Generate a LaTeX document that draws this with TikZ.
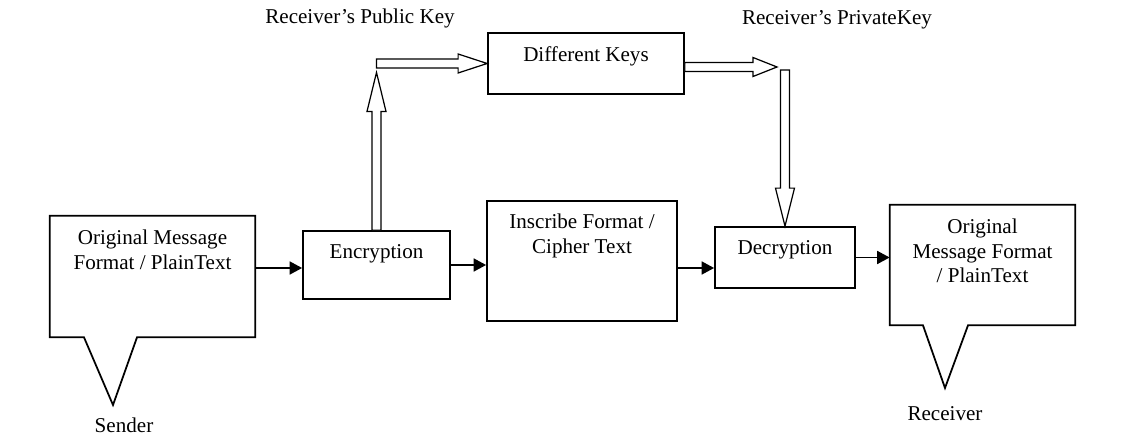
\documentclass[tikz,border=0pt]{standalone}
\usepackage{fontspec}
\setmainfont{Liberation Serif}
\usepackage{tikz}
\usetikzlibrary{arrows.meta, positioning, calc}

\newcommand{\shafthw}{0.09cm}
\newcommand{\headhw}{0.19cm}
% block arrow drawn hollow, #1 = head length
\newcommand{\hollowarrow}[3][0.6cm]{%
  \draw[hollow] ($(#2)!\shafthw!90:(#3)$)
    -- ($(#3)!#1!(#2)!\shafthw!90:(#3)$)
    -- ($(#3)!#1!(#2)!\headhw!90:(#3)$)
    -- (#3)
    -- ($(#3)!#1!(#2)!\headhw!-90:(#3)$)
    -- ($(#3)!#1!(#2)!\shafthw!-90:(#3)$)
    -- ($(#2)!\shafthw!-90:(#3)$) -- cycle;}

\begin{document}
\begin{tikzpicture}[font=\fontsize{12}{14}\selectfont,
  box/.style={draw, line width=1pt},
  outline/.style={line width=1pt, line join=miter},
  flow/.style={line width=1pt, -{Triangle[length=0.25cm, width=0.26cm]}},
  hollow/.style={draw, fill=white, line width=0.7pt, line join=miter},
  toptext/.style={label={[anchor=north, align=center, yshift=-0.16cm]north:#1}}]
  \useasboundingbox (0,0) rectangle (22.68,8.72);

  % sender and receiver speech boxes
  \node[minimum width=4.1cm, minimum height=2.42cm,
        toptext={Original Message\\Format / PlainText}] (sender) at (3.05,3.19) {};
  \coordinate (sendtip) at (2.26,0.62);
  \draw[outline] (sender.north west) -- (sender.north east) -- (sender.south east)
    -- ([xshift=-0.31cm]sender.south) -- (sendtip) -- ([xshift=-1.37cm]sender.south)
    -- (sender.south west) -- cycle;
  \node (sendname) at (2.48,0.22) {Sender};

  \node[minimum width=3.7cm, minimum height=2.4cm,
        toptext={Original\\Message Format\\/ PlainText}] (recv) at (19.65,3.42) {};
  \coordinate (recvtip) at (18.9,0.96);
  \draw[outline] (recv.north west) -- (recv.north east) -- (recv.south east)
    -- ([xshift=-0.29cm]recv.south) -- (recvtip) -- ([xshift=-1.19cm]recv.south)
    -- (recv.south west) -- cycle;
  \node (recvname) at (18.9,0.44) {Receiver};

  % process boxes
  \node[box, minimum width=2.94cm, minimum height=1.36cm,
        toptext={Encryption}] (encr) at (7.53,3.42) {};
  \node[box, minimum width=3.8cm, minimum height=2.4cm,
        toptext={Inscribe Format /\\Cipher Text}] (ciph) at (11.64,3.5) {};
  \node[box, minimum width=2.8cm, minimum height=1.22cm,
        toptext={Decryption}] (decr) at (15.7,3.57) {};
  \node[box, minimum width=3.92cm, minimum height=1.22cm,
        toptext={Different Keys}] (keys) at (11.72,7.45) {};

  \node (pubkey) at (7.2,8.36) {Receiver’s Public Key};
  \node (privkey) at (16.74,8.32) {Receiver’s PrivateKey};

  % main flow
  \draw[flow] ([yshift=-0.06cm]sender.east |- encr.west) -- ([yshift=-0.06cm]encr.west);
  \draw[flow] (encr.east) -- (encr.east -| ciph.west);
  \draw[flow] ([yshift=-0.14cm]ciph.east) -- ([yshift=-0.14cm]ciph.east -| decr.west);
  \draw[flow] (decr.east) -- (decr.east -| recv.west);

  % key paths
  \coordinate (pubturn) at (encr.north |- keys.west);
  \coordinate (pubtip) at ([yshift=-0.18cm]pubturn);
  \coordinate (privturn) at (decr.north |- keys.east);
  \coordinate (privtip) at ([xshift=-0.16cm,yshift=-0.07cm]privturn);
  \coordinate (privtop) at ([yshift=-0.13cm]privturn);
  \coordinate (privout) at ([yshift=-0.07cm]keys.east);
  \hollowarrow[0.78cm]{encr.north}{pubtip}
  \hollowarrow[0.58cm]{pubturn}{keys.west}
  \hollowarrow[0.48cm]{privout}{privtip}
  \hollowarrow[0.76cm]{privtop}{decr.north}
\end{tikzpicture}
\end{document}
